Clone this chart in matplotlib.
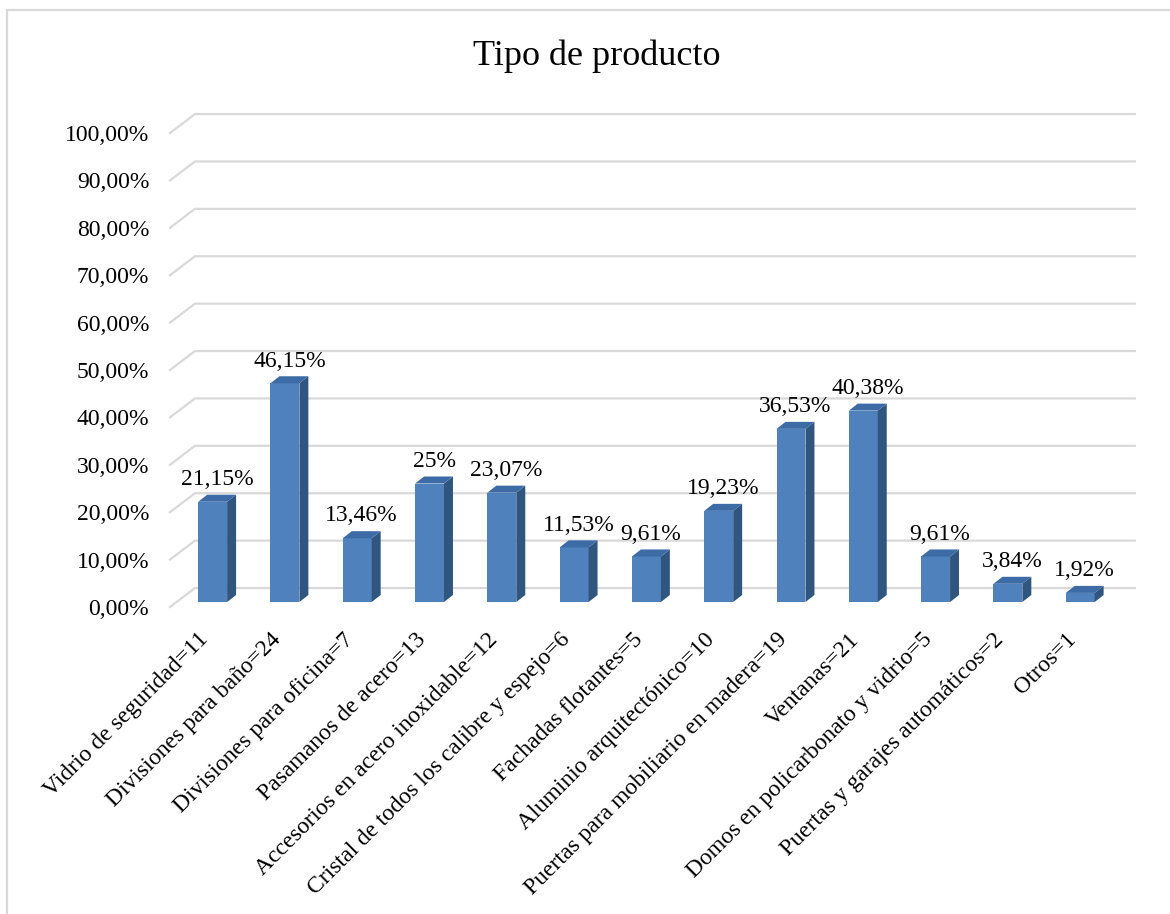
import matplotlib.pyplot as plt
from matplotlib.patches import Polygon, Rectangle
from matplotlib.transforms import offset_copy

categorias = ['Vidrio de seguridad=11', 'Divisiones para baño=24', 'Divisiones para oficina=7',
              'Pasamanos de acero=13', 'Accesorios en acero inoxidable=12',
              'Cristal de todos los calibre y espejo=6', 'Fachadas flotantes=5',
              'Aluminio arquitectónico=10', 'Puertas para mobiliario en madera=19',
              'Ventanas=21', 'Domos en policarbonato y vidrio=5',
              'Puertas y garajes automáticos=2', 'Otros=1']
valores = [21.15, 46.15, 13.46, 25, 23.07, 11.53, 9.61, 19.23, 36.53, 40.38, 9.61, 3.84, 1.92]
etiquetas = ['21,15%', '46,15%', '13,46%', '25%', '23,07%', '11,53%', '9,61%',
             '19,23%', '36,53%', '40,38%', '9,61%', '3,84%', '1,92%']
ticks_y = [0, 10, 20, 30, 40, 50, 60, 70, 80, 90, 100]

plt.rcParams['font.family'] = ['Liberation Serif', 'DejaVu Serif']

fig = plt.figure(figsize=(11.7, 9.14), dpi=100)
ax = fig.add_axes([0.1453, 0.3359, 0.8280, 0.5445])
ax.set_xlim(-0.5, 12.9)
ax.set_ylim(0, 105)

# oblique depth of the wall (data units)
Dx, Dy = 0.345, 4.0
grid_c = '#D9D9D9'
n = len(valores)
for t in ticks_y:
    ax.plot([-0.5, -0.5 + Dx, n - 0.5 + Dx], [t, t + Dy, t + Dy],
            color=grid_c, lw=1.6, clip_on=False, zorder=1)

# bars with pseudo-3D faces
w = 0.40
bdx, bdy = 0.09, 1.05
sx, sy = 0.124, 1.48
front_c, side_c, top_c = '#4F81BD', '#30557F', '#3D6BA6'
for i, v in enumerate(valores):
    x0 = i - w / 2 + bdx
    b = bdy
    ax.add_patch(Rectangle((x0, b), w, v, facecolor=front_c, edgecolor='none', zorder=3))
    ax.add_patch(Polygon([(x0 + w, b), (x0 + w, b + v), (x0 + w + sx, b + v + sy),
                          (x0 + w + sx, b + sy)], closed=True, facecolor=side_c,
                         edgecolor='none', zorder=3))
    ax.add_patch(Polygon([(x0, b + v), (x0 + w, b + v), (x0 + w + sx, b + v + sy),
                          (x0 + sx, b + v + sy)], closed=True, facecolor=top_c,
                         edgecolor='none', zorder=3))
    ax.text(x0 + w / 2 + sx / 2, b + v + sy + 1.0, etiquetas[i], ha='center',
            va='bottom', fontsize=17, zorder=4)

# category labels, rotated 45 degrees
lab_tr = offset_copy(ax.transData, fig=fig, x=-8, y=-22, units='dots')
for i, c in enumerate(categorias):
    ax.text(i, 0, c, transform=lab_tr, rotation=45, rotation_mode='anchor',
            ha='right', va='top', fontsize=17)

ax.set_yticks(ticks_y)
ax.set_yticklabels([f'{t},00%' for t in ticks_y], fontsize=17)
ax.set_xticks([])
ax.tick_params(axis='y', length=0, pad=15)
for s in ax.spines.values():
    s.set_visible(False)
ax.patch.set_visible(False)

fig.text(0.51, 0.938, 'Tipo de producto', ha='center', va='center', fontsize=26)

# chart frame
fig.patches.append(Rectangle((7 / 1170, -0.1), 1.2, 1 - 10 / 914 + 0.1, transform=fig.transFigure,
                             fill=False, edgecolor='#D9D9D9', lw=1.6))

fig.savefig('out.png', dpi=100)
